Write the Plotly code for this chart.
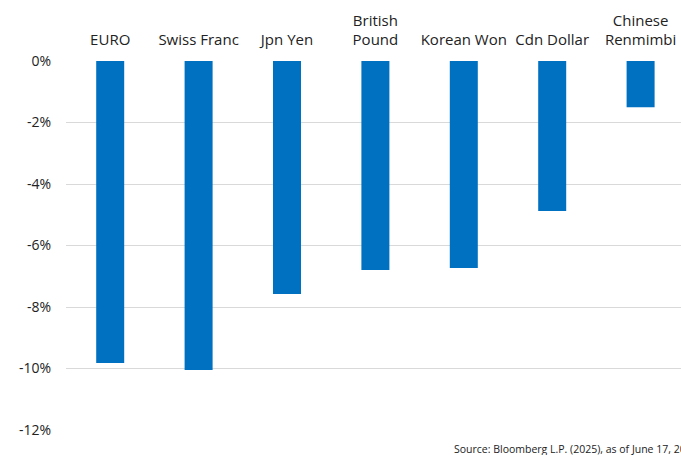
import plotly.graph_objects as go

categories = ["EURO", "Swiss Franc", "Jpn Yen", "British<br>Pound", "Korean Won", "Cdn Dollar", "Chinese<br>Renmimbi"]
values = [-9.82, -10.05, -7.58, -6.80, -6.73, -4.88, -1.50]
tick_vals = [0, -2, -4, -6, -8, -10, -12]
tick_text = ["0%", "-2%", "-4%", "-6%", "-8%", "-10%", "-12%"]
source = "Source: Bloomberg L.P. (2025), as of June 17, 2025"

W, H = 681, 455
left, top, bottom = 66, 61, 25
step = 88.4
plot_w = W - left
x_max = -0.5 + plot_w / step

fig = go.Figure(go.Bar(
    x=list(range(len(categories))), y=values,
    marker=dict(color="#0070C0", line=dict(width=0)),
    width=28 / step,
))

fig.update_layout(
    width=W, height=H,
    margin=dict(l=left, r=0, t=top, b=bottom, pad=0),
    paper_bgcolor="white", plot_bgcolor="white",
    font=dict(family="Open Sans", size=14, color="#222222"),
    showlegend=False,
    xaxis=dict(
        side="top", range=[-0.5, x_max],
        tickmode="array", tickvals=list(range(len(categories))), ticktext=categories,
        showgrid=False, zeroline=False, showline=False, ticks="",
        tickfont=dict(size=15, family="Open Sans", color="#222222"),
        ticklabelstandoff=12,
    ),
    yaxis=dict(
        range=[-12, 0], tickmode="array", tickvals=tick_vals, ticktext=tick_text,
        showgrid=True, gridcolor="#D9D9D9", gridwidth=1,
        zeroline=False, showline=False, ticks="",
        tickfont=dict(size=14, family="Open Sans", color="#222222"),
        ticklabelstandoff=14,
    ),
    annotations=[dict(
        text=source, xref="paper", yref="paper",
        x=(452 - left) / plot_w, y=0, xanchor="left", yanchor="top",
        yshift=-10, showarrow=False,
        font=dict(size=10.5, family="Open Sans", color="#222222"),
    )],
)

fig.write_html(
    "out.html",
    config={"displayModeBar": False},
    post_script="document.body.style.margin='0';document.body.style.overflow='hidden';",
)
